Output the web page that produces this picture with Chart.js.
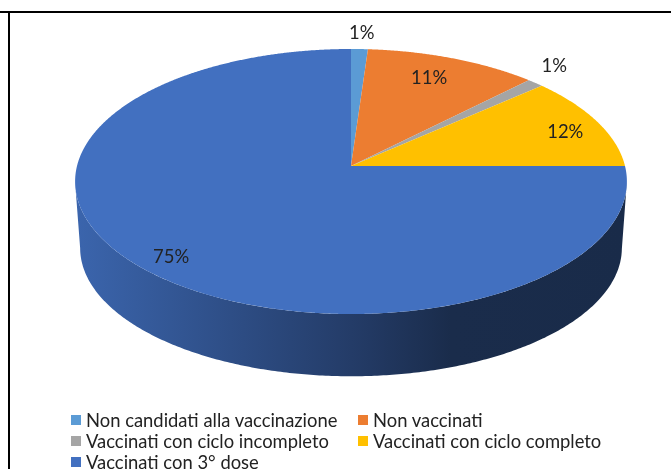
<!DOCTYPE html>
<html>
<head>
<meta charset="utf-8">
<script src="https://cdn.jsdelivr.net/npm/chart.js@4"></script>
<style>
  html, body { margin: 0; padding: 0; background: #fff; overflow: hidden; }
  #wrap { position: relative; width: 671px; height: 469px; }
  #pie { position: absolute; left: 0; top: 0; }
  .rule-top { position: absolute; left: 0; top: 11px; width: 671px; height: 2px; background: #000; }
  .rule-left { position: absolute; left: 8px; top: 11px; width: 2px; height: 458px; background: #000; }
  #legend { position: absolute; left: 71px; top: 409px; display: grid; grid-template-columns: 287px auto;
    grid-auto-rows: 21px; font: 18.4px Lato, sans-serif; color: #222; white-space: nowrap; }
  #legend div { display: flex; align-items: center; }
  #legend i { width: 10px; height: 10px; margin-right: 5px; flex: none; }
</style>
</head>
<body>
<div id="wrap">
  <canvas id="pie" width="671" height="469"></canvas>
  <div class="rule-top"></div>
  <div class="rule-left"></div>
  <div id="legend"></div>
</div>
<script>
const categories = ['Non candidati alla vaccinazione', 'Non vaccinati', 'Vaccinati con ciclo incompleto', 'Vaccinati con ciclo completo', 'Vaccinati con 3° dose'];
const percentages = [1.1, 11.3, 1.1, 11.5, 75];
const sliceColors = ['#5B9BD5', '#EC7D31', '#A5A5A5', '#FFC000', '#4270C0'];

// label placement: radius as a share of the pie, then a small nudge in px
const labelRadius = [1.165, 0.8, 1.22, 0.87, 0.88];
const labelNudgeX = [1, -5, -18, -1, 4];
const labelNudgeY = [1, 0, 0, 5, 3];

// the 3D look: circle projected with a bit of perspective, top face and bottom face
const topFace = { cx: 351, cy: 166, a: 274, k: 130.7 };
const bottomFace = { cx: 351, cy: 233, a: 269, k: 126.5 };
const tilt = 0.117;
const wallShade = [[0, 0.9], [0.5, 0.54], [0.68, 0.39], [1, 0.38]];

function project(face, angle, r) {
  const u = Math.cos(angle) * r;
  const v = -Math.sin(angle) * r;
  const w = 1 + tilt * v;
  return { x: face.cx + face.a * u / w, y: face.cy - face.k * v / w };
}

function shade(hex, f) {
  const n = parseInt(hex.slice(1), 16);
  const c = [n >> 16, (n >> 8) & 255, n & 255].map((x) => Math.round(x * f));
  return `rgb(${c[0]},${c[1]},${c[2]})`;
}

const pie3d = {
  id: 'pie3d',
  beforeDatasetsDraw(chart) {
    const ctx = chart.ctx;
    const arcs = chart.getDatasetMeta(0).data;
    // the wall is only seen between the two points where the rim is widest
    const wallFrom = Math.asin(tilt);
    const wallTo = Math.PI - wallFrom;

    arcs.forEach((arc, i) => {
      const from = Math.max(arc.startAngle, wallFrom);
      const to = Math.min(arc.endAngle, wallTo);
      if (from >= to) return;
      const g = ctx.createLinearGradient(75, 0, 628, 0);
      wallShade.forEach((s) => g.addColorStop(s[0], shade(sliceColors[i], s[1])));
      ctx.fillStyle = g;
      ctx.beginPath();
      for (let a = from; a < to; a += 0.01) {
        const p = project(topFace, a, 1);
        ctx.lineTo(p.x, p.y);
      }
      for (let a = to; a > from; a -= 0.01) {
        const p = project(bottomFace, a, 1);
        ctx.lineTo(p.x, p.y);
      }
      ctx.closePath();
      ctx.fill();
    });

    // top face
    arcs.forEach((arc, i) => {
      ctx.fillStyle = sliceColors[i];
      ctx.beginPath();
      ctx.moveTo(topFace.cx, topFace.cy);
      for (let a = arc.startAngle; a < arc.endAngle; a += 0.005) {
        const p = project(topFace, a, 1);
        ctx.lineTo(p.x, p.y);
      }
      const end = project(topFace, arc.endAngle, 1);
      ctx.lineTo(end.x, end.y);
      ctx.closePath();
      ctx.fill();
    });

    // percent labels
    ctx.font = '18.4px Lato, sans-serif';
    ctx.fillStyle = '#222';
    ctx.textAlign = 'center';
    ctx.textBaseline = 'middle';
    arcs.forEach((arc, i) => {
      const mid = (arc.startAngle + arc.endAngle) / 2;
      const p = project(topFace, mid, labelRadius[i]);
      ctx.fillText(Math.round(percentages[i]) + '%', p.x + labelNudgeX[i], p.y + labelNudgeY[i]);
    });
    return false;
  }
};

new Chart(document.getElementById('pie'), {
  type: 'pie',
  data: {
    labels: categories,
    datasets: [{ data: percentages, backgroundColor: sliceColors, borderWidth: 0 }]
  },
  options: {
    responsive: false,
    animation: false,
    events: [],
    plugins: { legend: { display: false }, tooltip: { enabled: false } }
  },
  plugins: [pie3d]
});

// legend in two columns, like the original
const legend = document.getElementById('legend');
categories.forEach((name, i) => {
  const row = document.createElement('div');
  const box = document.createElement('i');
  box.style.background = sliceColors[i];
  row.appendChild(box);
  row.appendChild(document.createTextNode(name));
  legend.appendChild(row);
});
</script>
</body>
</html>
